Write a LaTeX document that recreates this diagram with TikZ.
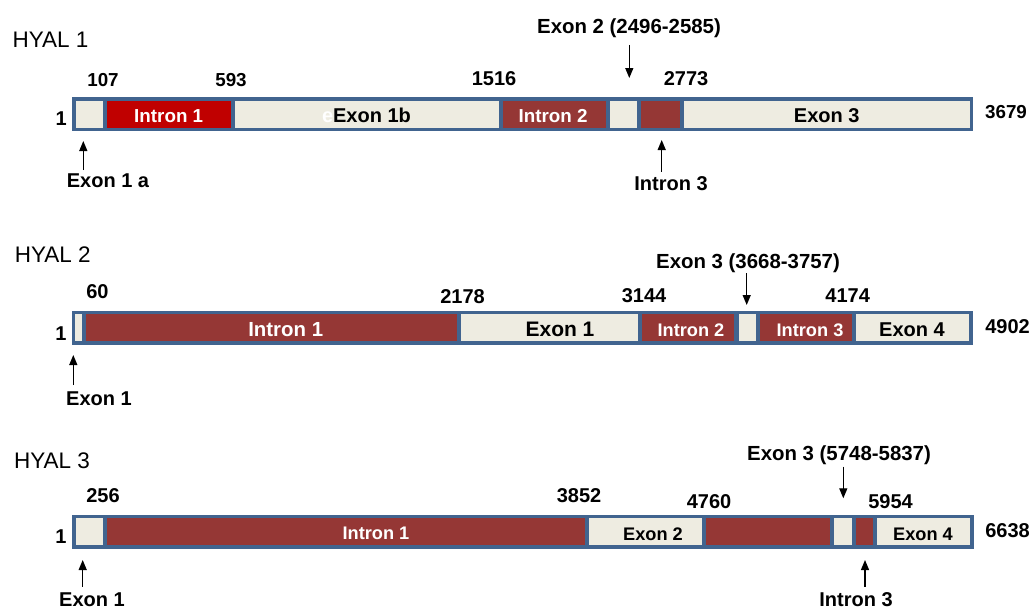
\documentclass[tikz,border=0pt]{standalone}
\usepackage{fontspec}
\setmainfont{Liberation Sans}
\usetikzlibrary{arrows.meta}
\definecolor{barblue}{HTML}{41648F}
\definecolor{exonc}{HTML}{EEECE1}
\definecolor{intronc}{HTML}{953735}
\definecolor{brightred}{HTML}{C00000}
\tikzset{
  lab/.style={font=\bfseries\fontsize{20}{24}\selectfont, inner sep=0pt, anchor=base, text=black},
  labs/.style={lab, font=\bfseries\fontsize{18.8}{22}\selectfont},
  wlab/.style={labs, text=white},
  title/.style={font=\fontsize{22.5}{26}\selectfont, inner sep=0pt, anchor=base, text=black},
  barbox/.style={fill=barblue, draw=none, inner sep=0pt, minimum height=34pt},
  segbox/.style={draw=none, inner sep=0pt, minimum height=27pt},
  arr/.style={-{Triangle[length=10pt,width=8pt]}, line width=1.3pt, black},
}
\newcommand{\seg}[5]{%
  \pgfmathsetmacro{\segw}{#3-#2}%
  \pgfmathsetmacro{\segx}{(#2+#3)/2}%
  \node[segbox, fill=#5, minimum width=\segw pt] (#1) at (\segx,#4) {};%
}
\newcommand{\outerbar}[4]{%
  \pgfmathsetmacro{\segw}{#3-#2}%
  \pgfmathsetmacro{\segx}{(#2+#3)/2}%
  \node[barbox, minimum width=\segw pt] (#1) at (\segx,#4) {};%
}
\begin{document}
\begin{tikzpicture}[x=1pt,y=-1pt]
\useasboundingbox (0,0) rectangle (1032,610);
\fill[white] (0,0) rectangle (1032,610);

% ================= HYAL 1 =================
\node[title] (t1) at (50.5,47.5) {HYAL 1};
\outerbar{bar1}{71.7}{973.3}{114.4}
\seg{h1c1}{76}{102.7}{114.4}{exonc}
\seg{h1i1}{106.7}{231}{114.4}{brightred}
\seg{h1e1b}{235.3}{499}{114.4}{exonc}
\seg{h1i2}{502.7}{606}{114.4}{intronc}
\seg{h1e2}{610}{637.3}{114.4}{exonc}
\seg{h1i3}{641.3}{680}{114.4}{intronc}
\seg{h1e3}{684}{969.5}{114.4}{exonc}

\node[wlab] (h1i1l) at (168.7,122.3) {Intron 1};
\node[lab, anchor=base west] (h1e1bl) at (321.8,122.5) {\textcolor{white}{e}Exon 1b};
\node[wlab] (h1i2l) at (553,122) {Intron 2};
\node[lab] (h1e3l) at (826.7,122) {Exon 3};

\node[labs] (n107) at (103,86) {107};
\node[labs] (n593) at (231,86) {593};
\node[lab] (n1516) at (494,85) {1516};
\node[lab] (n2773) at (686,85) {2773};
\node[lab] (h1one) at (61.3,125.7) {1};
\node[labs] (n3679) at (1006,118.3) {3679};
\node[lab, font=\bfseries\fontsize{20.4}{24}\selectfont] (h1ex2) at (629,33.5) {Exon 2 (2496-2585)};
\node[lab] (h1ex1a) at (108,187.3) {Exon 1 a};
\node[lab] (h1in3) at (671,190) {Intron 3};

\coordinate (h1a1s) at (629.3,45);   \coordinate (h1a1t) at (629.3,78);
\coordinate (h1a2s) at (83.3,170);   \coordinate (h1a2t) at (83.3,141);
\coordinate (h1a3s) at (661.7,171.7); \coordinate (h1a3t) at (661.7,140);
\draw[arr] (h1a1s) -- (h1a1t);
\draw[arr] (h1a2s) -- (h1a2t);
\draw[arr] (h1a3s) -- (h1a3t);

% ================= HYAL 2 =================
\node[title] (t2) at (52.8,262.5) {HYAL 2};
\outerbar{bar2}{71.7}{973}{327.5}
\seg{h2c1}{75}{82.3}{327.5}{exonc}
\seg{h2i1}{85.5}{457.3}{327.5}{intronc}
\seg{h2e1}{460.7}{637.7}{327.5}{exonc}
\seg{h2i2}{641.7}{734}{327.5}{intronc}
\seg{h2e3}{738.7}{755.7}{327.5}{exonc}
\seg{h2i3}{760}{851.7}{327.5}{intronc}
\seg{h2e4}{855.7}{969}{327.5}{exonc}

\node[wlab, font=\bfseries\fontsize{20.4}{24}\selectfont] (h2i1l) at (285.7,336.5) {Intron 1};
\node[lab, font=\bfseries\fontsize{21}{24}\selectfont] (h2e1l) at (560,336.5) {Exon 1};
\node[wlab, font=\bfseries\fontsize{18.2}{22}\selectfont] (h2i2l) at (691,336.5) {Intron 2};
\node[wlab, font=\bfseries\fontsize{18.2}{22}\selectfont] (h2i3l) at (810,336.5) {Intron 3};
\node[lab] (h2e4l) at (912,336.5) {Exon 4};

\node[lab] (n60) at (97.5,298.3) {60};
\node[lab] (n2178) at (462.5,303.3) {2178};
\node[lab] (n3144) at (644,302.7) {3144};
\node[lab] (n4174) at (847.7,302.7) {4174};
\node[lab] (h2one) at (61,340.5) {1};
\node[lab] (n4902) at (1007.5,333.3) {4902};
\node[lab, font=\bfseries\fontsize{20.4}{24}\selectfont] (h2ex3) at (748,268.3) {Exon 3 (3668-3757)};
\node[lab] (h2ex1) at (99,405) {Exon 1};

\coordinate (h2a1s) at (746.7,273);  \coordinate (h2a1t) at (746.7,305);
\coordinate (h2a2s) at (73.3,385);   \coordinate (h2a2t) at (73.3,355);
\draw[arr] (h2a1s) -- (h2a1t);
\draw[arr] (h2a2s) -- (h2a2t);

% ================= HYAL 3 =================
\node[title] (t3) at (52,468.5) {HYAL 3};
\outerbar{bar3}{71.7}{974}{531.5}
\seg{h3c1}{75.5}{102.7}{531.5}{exonc}
\seg{h3i1}{106.7}{585}{531.5}{intronc}
\seg{h3e2}{589}{702.3}{531.5}{exonc}
\seg{h3ix}{705.7}{830}{531.5}{intronc}
\seg{h3e3}{834}{851.7}{531.5}{exonc}
\seg{h3i3}{855.7}{873}{531.5}{intronc}
\seg{h3e4}{876.7}{970}{531.5}{exonc}

\node[wlab, font=\bfseries\fontsize{18.2}{22}\selectfont] (h3i1l) at (376,539.3) {Intron 1};
\node[labs, font=\bfseries\fontsize{18.2}{22}\selectfont] (h3e2l) at (653,540) {Exon 2};
\node[labs, font=\bfseries\fontsize{18.2}{22}\selectfont] (h3e4l) at (923,540) {Exon 4};

\node[lab] (n256) at (103,502.7) {256};
\node[lab] (n3852) at (579,502.3) {3852};
\node[lab] (n4760) at (709,508.3) {4760};
\node[lab] (n5954) at (890.5,508.3) {5954};
\node[lab] (h3one) at (61,543.3) {1};
\node[lab] (n6638) at (1007.5,537) {6638};
\node[lab, font=\bfseries\fontsize{20.4}{24}\selectfont] (h3ex3) at (839,460) {Exon 3 (5748-5837)};
\node[lab] (h3ex1) at (92,606.3) {Exon 1};
\node[lab] (h3in3) at (856,606.3) {Intron 3};

\coordinate (h3a1s) at (843.3,466.7); \coordinate (h3a1t) at (843.3,498.3);
\coordinate (h3a2s) at (82.7,586.7);  \coordinate (h3a2t) at (82.7,560);
\coordinate (h3a3s) at (865,586.7);   \coordinate (h3a3t) at (865,560);
\draw[arr] (h3a1s) -- (h3a1t);
\draw[arr] (h3a2s) -- (h3a2t);
\draw[arr] (h3a3s) -- (h3a3t);
\end{tikzpicture}
\end{document}
